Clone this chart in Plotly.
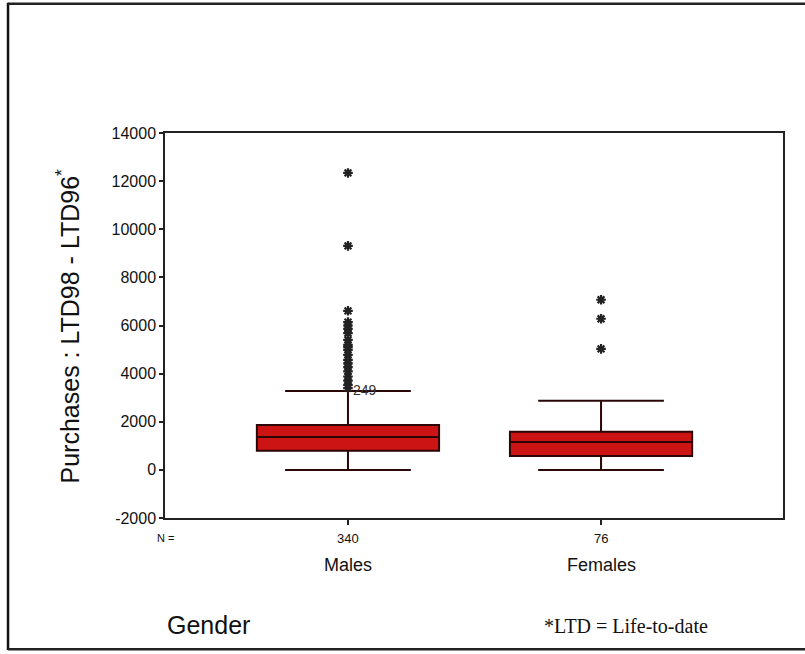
import plotly.graph_objects as go

# ---- data ----
categories = ["Males", "Females"]
counts = [340, 76]
q1 = [790, 580]
median = [1370, 1160]
q3 = [1870, 1580]
lower_fence = [0, 0]
upper_fence = [3280, 2870]

males_outliers = [12340, 9310, 6610, 6140, 6000, 5860, 5680, 5400, 5195, 5100,
                  4990, 4780, 4570, 4430, 4270, 4090, 3880, 3710, 3530, 3400]
females_outliers = [7070, 6280, 5030]
labelled_case = "249"
labelled_value = 3400

y_ticks = [-2000, 0, 2000, 4000, 6000, 8000, 10000, 12000, 14000]

SANS = "Liberation Sans, Arial, sans-serif"
SERIF = "Liberation Serif, Times New Roman, serif"

fig = go.Figure()

fig.add_trace(go.Box(
    x=categories,
    q1=q1, median=median, q3=q3,
    lowerfence=lower_fence, upperfence=upper_fence,
    width=0.72,
    whiskerwidth=0.69,
    fillcolor="#cc1414",
    line=dict(color="#2b0606", width=2),
    boxpoints=False,
    showlegend=False,
    hoverinfo="skip",
))

fig.add_trace(go.Scatter(
    x=[categories[0]] * len(males_outliers) + [categories[1]] * len(females_outliers),
    y=males_outliers + females_outliers,
    mode="markers",
    marker=dict(symbol="asterisk-open", size=8, color="#222222",
                line=dict(color="#222222", width=2.2)),
    showlegend=False,
    hoverinfo="skip",
))

annotations = [
    dict(x=categories[0], y=labelled_value, xref="x", yref="y", text=labelled_case,
         showarrow=False, xanchor="left", yanchor="middle", xshift=3, yshift=-2,
         font=dict(family=SANS, size=14, color="#333333")),
    dict(x=0, y=-0.052, xref="paper", yref="paper", text="N =", showarrow=False,
         xanchor="center", yanchor="middle", font=dict(family=SANS, size=11, color="#111111")),
]
for c, n in zip(categories, counts):
    annotations.append(dict(x=c, y=-0.052, xref="x", yref="paper", text=str(n),
                            showarrow=False, xanchor="center", yanchor="middle",
                            font=dict(family=SANS, size=13, color="#111111")))
    annotations.append(dict(x=c, y=-0.122, xref="x", yref="paper", text=c,
                            showarrow=False, xanchor="center", yanchor="middle",
                            font=dict(family=SANS, size=18, color="#111111")))

annotations.append(dict(x=0.0, y=-0.278, xref="paper", yref="paper", text="Gender",
                        showarrow=False, xanchor="left", yanchor="middle",
                        font=dict(family=SANS, size=25, color="#111111")))
annotations.append(dict(x=0.746, y=-0.280, xref="paper", yref="paper", text="*LTD = Life-to-date",
                        showarrow=False, xanchor="center", yanchor="middle",
                        font=dict(family=SERIF, size=20, color="#111111")))
annotations.append(dict(x=-0.157, y=0.5, xref="paper", yref="paper",
                        text="Purchases : LTD98 - LTD96<sup>*</sup>",
                        showarrow=False, textangle=-90, xanchor="center", yanchor="middle",
                        font=dict(family=SANS, size=25, color="#111111")))

shapes = [
    dict(type="line", xref="paper", yref="paper", x0=-0.254, x1=-0.254, y0=1.338, y1=-0.343,
         line=dict(color="#111111", width=2.5)),
    dict(type="line", xref="paper", yref="paper", x0=-0.254, x1=1.05, y0=1.336, y1=1.336,
         line=dict(color="#222222", width=2.5)),
    dict(type="line", xref="paper", yref="paper", x0=-0.254, x1=1.05, y0=-0.341, y1=-0.341,
         line=dict(color="#222222", width=2.5)),
]

fig.update_layout(
    width=805, height=654,
    margin=dict(l=165, r=22, t=133, b=136),
    paper_bgcolor="white", plot_bgcolor="white",
    font=dict(family=SANS, color="#111111"),
    annotations=annotations,
    shapes=shapes,
    xaxis=dict(type="category", range=[-0.723, 1.719], showticklabels=False,
               ticks="outside", ticklen=5, tickwidth=2, tickcolor="#222222",
               showline=True, linecolor="#222222", linewidth=2, mirror=True,
               showgrid=False, zeroline=False, fixedrange=True),
    yaxis=dict(range=[-2000, 14000], tickvals=y_ticks, ticktext=[str(v) for v in y_ticks],
               ticks="outside", ticklen=4, tickwidth=2, tickcolor="#222222",
               tickfont=dict(family=SANS, size=16, color="#111111"),
               showline=True, linecolor="#222222", linewidth=1.5, mirror=True,
               showgrid=False, zeroline=False, fixedrange=True),
)

fig.write_html("out.html")
